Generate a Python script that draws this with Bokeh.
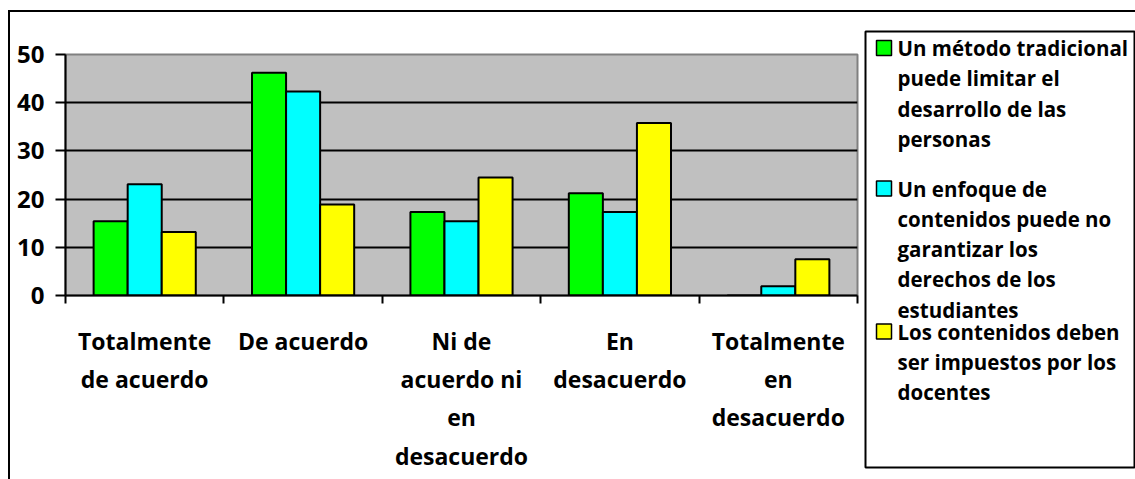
from bokeh.plotting import figure
from bokeh.models import Range1d, FixedTicker, Row
from bokeh.core.properties import value
from bokeh.embed import file_html
from bokeh.resources import INLINE

# ---- data ----
categories = ["Totalmente\nde acuerdo", "De acuerdo", "Ni de\nacuerdo ni\nen\ndesacuerdo",
              "En\ndesacuerdo", "Totalmente\nen\ndesacuerdo"]
series_names = [
    "Un método tradicional\npuede limitar el\ndesarrollo de las\npersonas",
    "Un enfoque de\ncontenidos puede no\ngarantizar los\nderechos de los\nestudiantes",
    "Los contenidos deben\nser impuestos por los\ndocentes",
]
metodo_tradicional = [15.4, 46.2, 17.3, 21.2, 0.0]
enfoque_contenidos = [23.1, 42.3, 15.4, 17.3, 1.9]
contenidos_impuestos = [13.2, 18.9, 24.5, 35.8, 7.5]
y_ticks = [0, 10, 20, 30, 40, 50]

series = [metodo_tradicional, enfoque_contenidos, contenidos_impuestos]
colors = ["#00FF00", "#00FFFF", "#FFFF00"]

FONT = "Open Sans"
NCAT = len(categories)
YMAX = 50

# ---- layout geometry (row starts at window x=10, y=12) ----
OX, OY = 10, 12
TOTAL_H = 479 - OY
W1 = 850
p = figure(width=W1, height=TOTAL_H, output_backend="svg", toolbar_location=None,
           x_range=Range1d(0, NCAT), y_range=Range1d(0, YMAX), frame_align=False,
           min_border_left=65 - OX, min_border_right=W1 - (857 - OX),
           min_border_top=54 - OY, min_border_bottom=TOTAL_H - (295 - OY))
p.background_fill_color = "#C0C0C0"
p.border_fill_color = "white"
p.outline_line_color = "#808080"
p.outline_line_width = 2

bw = 0.215
offsets = [-bw, 0.0, bw]
for vals, col, off in zip(series, colors, offsets):
    xs = [i + 0.5 + off for i in range(NCAT)]
    p.vbar(x=xs, top=vals, width=bw, bottom=0, fill_color=col,
           line_color="black", line_width=2)

p.xgrid.visible = False
p.ygrid.ticker = FixedTicker(ticks=y_ticks[1:-1])
p.ygrid.grid_line_color = "black"
p.ygrid.grid_line_width = 2

p.yaxis.ticker = FixedTicker(ticks=y_ticks)
p.yaxis.axis_line_color = "black"
p.yaxis.axis_line_width = 2
p.yaxis.major_tick_line_width = 2
p.yaxis.major_tick_in = 0
p.yaxis.major_tick_out = 10
p.yaxis.minor_tick_line_color = None
p.yaxis.major_label_standoff = 11
p.yaxis.major_label_text_font = FONT
p.yaxis.major_label_text_font_style = "bold"
p.yaxis.major_label_text_font_size = "24px"
p.yaxis.major_label_text_color = "black"

centers = [i + 0.5 for i in range(NCAT)]
p.xaxis.ticker = FixedTicker(ticks=centers, minor_ticks=list(range(NCAT + 1)))
p.xaxis.major_label_overrides = {c: lab for c, lab in zip(centers, categories)}
p.xaxis.axis_line_color = "black"
p.xaxis.axis_line_width = 2
p.xaxis.major_tick_line_color = None
p.xaxis.major_tick_in = 0
p.xaxis.major_tick_out = 0
p.xaxis.minor_tick_line_color = "black"
p.xaxis.minor_tick_line_width = 2
p.xaxis.minor_tick_in = 0
p.xaxis.minor_tick_out = 8
p.xaxis.major_label_standoff = 21
p.xaxis.major_label_text_font = FONT
p.xaxis.major_label_text_font_style = "bold"
p.xaxis.major_label_text_font_size = "23px"
p.xaxis.major_label_text_line_height = 1.2
p.xaxis.major_label_text_color = "black"

# ---- legend panel (a figure whose frame is the legend box) ----
W2 = 1135 - OX - W1
LB_L, LB_T, LB_B = 865, 31, 467
leg_w = 1135 - LB_L
leg_h = LB_B - LB_T
leg = figure(width=W2, height=TOTAL_H, output_backend="svg", toolbar_location=None,
             x_range=Range1d(0, leg_w), y_range=Range1d(leg_h, 0), frame_align=False,
             x_axis_location=None, y_axis_location=None,
             min_border_left=LB_L - (OX + W1), min_border_right=0,
             min_border_top=LB_T - OY, min_border_bottom=TOTAL_H - (LB_B - OY))
leg.grid.visible = False
leg.background_fill_color = "white"
leg.border_fill_color = "white"
leg.outline_line_color = "black"
leg.outline_line_width = 2

item_first_y = [47.5, 188, 331]
line_step = 30.3
sq_x, sq_y, tx, ty, tt = [], [], [], [], []
for name, y0 in zip(series_names, item_first_y):
    sq_x.append(883.5 - LB_L)
    sq_y.append(y0 - LB_T)
    for k, line in enumerate(name.split("\n")):
        tx.append(897 - LB_L)
        ty.append(y0 + line_step * k - LB_T)
        tt.append(line)
leg.rect(x=sq_x, y=sq_y, width=15, height=15, fill_color=colors,
         line_color="black", line_width=1.5)
leg.text(x=tx, y=ty, text=tt, text_align="left", text_baseline="middle",
         text_font=value(FONT), text_font_style="bold", text_font_size="20.5px",
         text_color="black")

layout = Row(children=[p, leg],
             styles={"margin-left": "8px", "margin-top": "10px",
                     "border-left": "2px solid black", "border-top": "2px solid black"})

open("out.html", "w").write(file_html(layout, INLINE))
